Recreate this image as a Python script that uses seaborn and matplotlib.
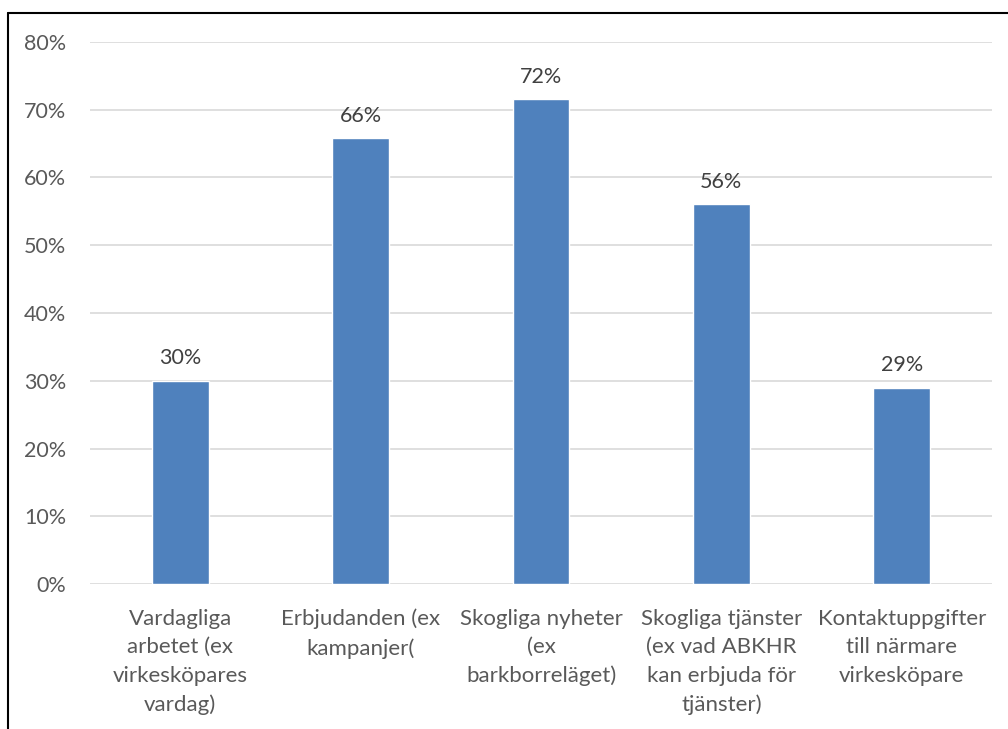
import matplotlib
matplotlib.use("Agg")
import matplotlib.pyplot as plt
import seaborn as sns
import pandas as pd
from matplotlib.lines import Line2D

categories = [
    "Vardagliga\narbetet (ex\nvirkesköpares\nvardag)",
    "Erbjudanden (ex\nkampanjer(",
    "Skogliga nyheter\n(ex\nbarkborreläget)",
    "Skogliga tjänster\n(ex vad ABKHR\nkan erbjuda för\ntjänster)",
    "Kontaktuppgifter\ntill närmare\nvirkesköpare",
]
values = [0.30, 0.658, 0.715, 0.56, 0.29]
labels = ["30%", "66%", "72%", "56%", "29%"]
yticks = [0.0, 0.1, 0.2, 0.3, 0.4, 0.5, 0.6, 0.7, 0.8]
ytick_labels = ["0%", "10%", "20%", "30%", "40%", "50%", "60%", "70%", "80%"]

sns.set_theme(style="white")
plt.rcParams['font.family'] = ['Lato', 'DejaVu Sans']

df = pd.DataFrame({"cat": categories, "val": values})

fig = plt.figure(figsize=(10.08, 7.29), dpi=100)
ax = fig.add_axes([90/1008, 1-584.3/729, (992-90)/1008, (584.3-41.7)/729])

sns.barplot(data=df, x="cat", y="val", color="#4f81bd", saturation=1,
            width=0.314, ax=ax, zorder=3)

ax.set_ylim(0, 0.8)
ax.set_xlim(-0.5, len(categories) - 0.5)
ax.set_yticks(yticks)
ax.set_yticklabels(ytick_labels, fontsize=15.5, color="#595959")
ax.set_xticks(range(len(categories)))
ax.set_xticklabels(categories, fontsize=16, color="#595959", linespacing=1.53)
ax.tick_params(axis="both", length=0)
ax.tick_params(axis="y", pad=17)
ax.tick_params(axis="x", pad=17.5)
ax.set_xlabel("")
ax.set_ylabel("")
ax.grid(axis="y", color="#d9d9d9", linewidth=1.2, zorder=0)
ax.set_axisbelow(True)
for s in ax.spines.values():
    s.set_visible(False)

for i, (v, lab) in enumerate(zip(values, labels)):
    ax.annotate(lab, xy=(i, v), xytext=(0, 9), textcoords="offset points",
                ha="center", va="bottom", fontsize=15.5, color="#404040")

# outer border (left and top)
fig.add_artist(Line2D([8/1008, 8/1008], [0, 1-12.7/729], transform=fig.transFigure,
                      color="black", linewidth=1.5))
fig.add_artist(Line2D([8/1008, 1], [1-12.7/729, 1-12.7/729], transform=fig.transFigure,
                      color="black", linewidth=1.5))

fig.savefig("out.png", dpi=100)
